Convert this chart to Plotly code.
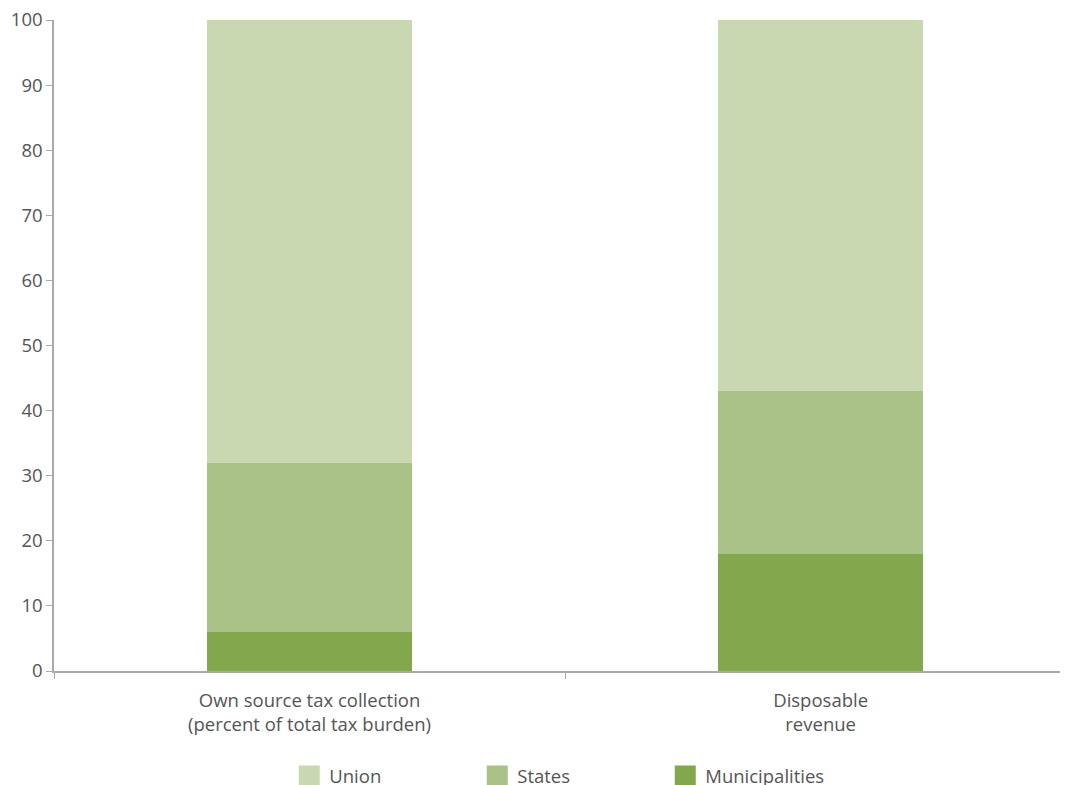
import plotly.graph_objects as go

categories = ["Own source tax collection<br>(percent of total tax burden)", "Disposable<br>revenue"]
municipalities = [6, 18]
states = [26, 25]
union = [68, 57]
y_ticks = [0, 10, 20, 30, 40, 50, 60, 70, 80, 90, 100]

colors = {"Union": "#CAD8B2", "States": "#AAC288", "Municipalities": "#82A74D"}

fig = go.Figure()
for name, vals in [("Municipalities", municipalities), ("States", states), ("Union", union)]:
    fig.add_trace(go.Bar(x=categories, y=vals, name=name, marker=dict(color=colors[name], line=dict(width=0)),
                         width=0.4, showlegend=False))
# legend-only entries with larger square swatches
for name in ["Municipalities", "States", "Union"]:
    fig.add_trace(go.Scatter(x=[None], y=[None], mode="markers", name=name,
                             marker=dict(symbol="square", size=16, color=colors[name],
                                         line=dict(width=5, color=colors[name]))))

font_family = "Open Sans, Noto Sans, sans-serif"
fig.update_layout(
    width=1060, height=777,
    barmode="stack",
    plot_bgcolor="white", paper_bgcolor="white",
    margin=dict(l=46, r=0, t=12, b=114, autoexpand=False),
    font=dict(family=font_family, size=18.5, color="#555555"),
    showlegend=True,
    legend=dict(orientation="h", traceorder="reversed", x=0.232, xanchor="left", y=-0.162, yanchor="middle",
                entrywidth=143, entrywidthmode="pixels", font=dict(size=18.5, color="#555555"),
                itemwidth=30, itemsizing="trace"),
    xaxis=dict(range=[-0.5, 1.484], showline=True, linecolor="#aaaaaa", linewidth=1.5, ticks="outside",
               tickson="boundaries", ticklen=6, tickcolor="#aaaaaa", showgrid=False, zeroline=False,
               automargin=False, ticklabelstandoff=12, ticklabeloverflow="allow",
               tickfont=dict(size=18.5, color="#555555")),
    yaxis=dict(range=[0, 100], tickvals=y_ticks, showline=True, linecolor="#aaaaaa", linewidth=1.5,
               ticks="outside", ticklen=6, tickcolor="#aaaaaa", showgrid=False, zeroline=False,
               automargin=False, ticklabeloverflow="allow",
               tickfont=dict(size=18.5, color="#555555")),
)
fig.write_html("out.html")
